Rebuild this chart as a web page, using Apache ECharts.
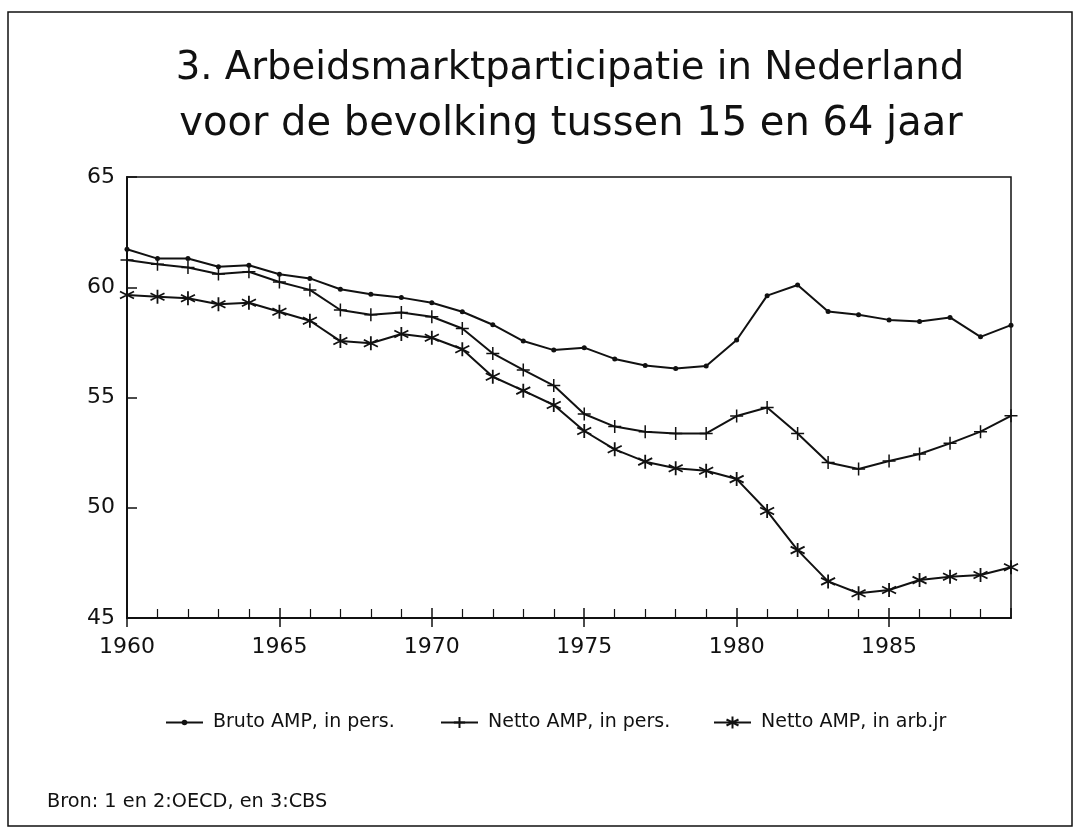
<!DOCTYPE html>
<html>
<head>
<meta charset="utf-8">
<script src="https://cdn.jsdelivr.net/npm/echarts@6/dist/echarts.min.js"></script>
<style>html,body{margin:0;padding:0;background:#fff}#c{width:1080px;height:832px}</style>
</head>
<body>
<div id="c"></div>
<script>
var years = [1960,1961,1962,1963,1964,1965,1966,1967,1968,1969,1970,1971,1972,1973,1974,1975,1976,1977,1978,1979,1980,1981,1982,1983,1984,1985,1986,1987,1988,1989];
var brutoPers = [61.72,61.30,61.30,60.93,61.00,60.59,60.40,59.91,59.68,59.53,59.30,58.89,58.30,57.56,57.15,57.26,56.75,56.45,56.32,56.43,57.61,59.62,60.10,58.90,58.75,58.52,58.45,58.63,57.75,58.28];
var nettoPers = [61.24,61.04,60.90,60.60,60.70,60.24,59.88,58.97,58.75,58.85,58.66,58.13,57.00,56.25,55.54,54.25,53.68,53.45,53.37,53.37,54.16,54.55,53.37,52.05,51.76,52.12,52.44,52.92,53.45,54.17];
var nettoArb = [59.65,59.57,59.50,59.23,59.30,58.89,58.48,57.56,57.46,57.88,57.71,57.19,55.94,55.31,54.66,53.48,52.65,52.09,51.79,51.68,51.30,49.85,48.08,46.66,46.12,46.27,46.72,46.87,46.95,47.30];
var xTickYears = [1960,1965,1970,1975,1980,1985];
var seriesNames = ['Bruto AMP, in pers.','Netto AMP, in pers.','Netto AMP, in arb.jr'];
var titleLine1 = '3. Arbeidsmarktparticipatie in Nederland';
var titleLine2 = 'voor de bevolking tussen 15 en 64 jaar';
var sourceText = 'Bron: 1 en 2:OECD, en 3:CBS';

function pairs(arr){ return years.map(function(y,i){ return [y, arr[i]]; }); }

var FONT = 'DejaVu Sans';
var plusPath = 'path://M0,-10L0,10M-10,0L10,0';
var starPath = 'path://M0,-10L0,10M-8.66,-5L8.66,5M-8.66,5L8.66,-5';

function legendFor(i, left, ih){
  return {data: [seriesNames[i]], left: left, top: 713, padding: 0, itemWidth: 37, itemHeight: ih,
          textStyle: {fontFamily: FONT, fontSize: 19, color: '#111', padding: [0,0,0,5]}};
}

var chart = echarts.init(document.getElementById('c'), null, {renderer:'canvas'});
var option = {
  backgroundColor: '#fff',
  animation: false,
  grid: {left: 127, right: 69, top: 177, bottom: 214, show: true, borderColor: '#111', borderWidth: 1.5, backgroundColor: 'transparent'},
  xAxis: [{
    type: 'value', min: 1960, max: 1989, interval: 5,
    axisLine: {lineStyle: {color: '#111', width: 2}},
    axisTick: {show: true, inside: true, length: 10, lineStyle: {color: '#111', width: 1.5}},
    minorTick: {show: true, splitNumber: 5, length: 9, lineStyle: {color: '#111', width: 1.2}},
    axisLabel: {fontFamily: FONT, fontSize: 22, color: '#111', margin: 18, showMaxLabel: false,
                formatter: function(v){ return String(v); }},
    splitLine: {show: false}
  },{
    type: 'category', data: years.map(String), boundaryGap: false, position: 'bottom',
    axisLine: {show: false},
    axisTick: {show: true, inside: false, length: 9, lineStyle: {color: '#111', width: 1.5},
               interval: function(idx, val){ return xTickYears.indexOf(Number(val)) >= 0; }},
    axisLabel: {show: false},
    splitLine: {show: false}
  }],
  yAxis: {
    type: 'value', min: 45, max: 65, interval: 5,
    axisLine: {show: true, lineStyle: {color: '#111', width: 2}},
    axisTick: {show: true, inside: true, length: 10, lineStyle: {color: '#111', width: 1.5}},
    axisLabel: {fontFamily: FONT, fontSize: 22, color: '#111', margin: 12},
    splitLine: {show: false}
  },
  legend: [legendFor(0, 165, 7), legendFor(1, 440, 14), legendFor(2, 713, 15)],
  graphic: [
    {type: 'rect', shape: {x: 8, y: 12, width: 1064, height: 814}, style: {fill: 'none', stroke: '#111', lineWidth: 1.5}, silent: true, z: -1},
    {type: 'text', x: 570, y: 69, style: {text: titleLine1, font: '38.6px "DejaVu Sans"', fill: '#111', textAlign: 'center', textVerticalAlign: 'middle'}},
    {type: 'text', x: 571, y: 125, style: {text: titleLine2, font: '40px "DejaVu Sans"', fill: '#111', textAlign: 'center', textVerticalAlign: 'middle'}},
    {type: 'text', left: 47, top: 792, style: {text: sourceText, font: '19.3px "DejaVu Sans"', fill: '#111'}}
  ],
  series: [
    {name: seriesNames[0], type: 'line', data: pairs(brutoPers), symbol: 'circle', symbolSize: 5, showAllSymbol: true,
     lineStyle: {color: '#111', width: 2}, itemStyle: {color: '#111'}},
    {name: seriesNames[1], type: 'line', data: pairs(nettoPers), symbol: plusPath, symbolSize: 13, showAllSymbol: true,
     lineStyle: {color: '#111', width: 2}, itemStyle: {color: '#111', borderColor: '#111', borderWidth: 1.5}},
    {name: seriesNames[2], type: 'line', data: pairs(nettoArb), symbol: starPath, symbolSize: 14, showAllSymbol: true,
     lineStyle: {color: '#111', width: 2}, itemStyle: {color: '#111', borderColor: '#111', borderWidth: 1.8}}
  ]
};
chart.setOption(option);
</script>
</body>
</html>
